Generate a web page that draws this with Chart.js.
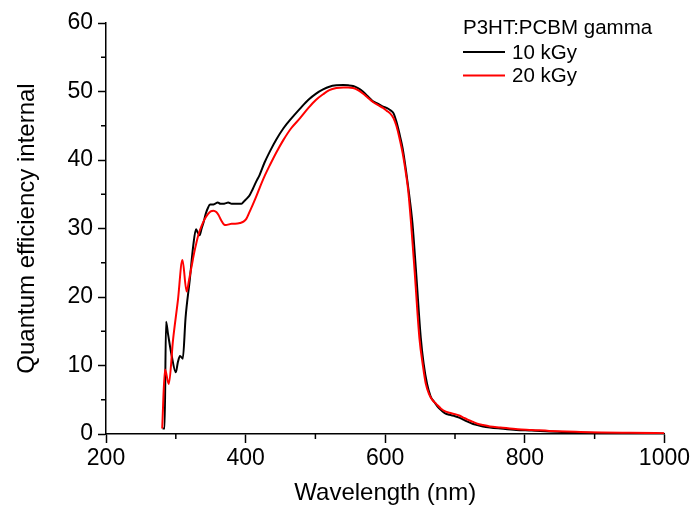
<!DOCTYPE html>
<html>
<head>
<meta charset="utf-8">
<script src="https://cdn.jsdelivr.net/npm/chart.js@4/dist/chart.umd.min.js"></script>
<style>
    html, body { margin: 0; padding: 0; background: #fff; }
    #wrap { width: 692px; height: 514px; }
</style>
</head>
<body>
<div id="wrap"><canvas id="qeChart" width="692" height="514"></canvas></div>
<script>
// 10 kGy
const wavelength10 = [281, 284, 286, 289, 294, 300, 303, 306, 310, 314, 320, 325, 329, 331, 334, 337, 340, 343, 346, 349,
    353, 356, 360, 364, 368, 372, 375, 380, 385, 390, 394, 398, 402, 406, 410, 415, 420, 427, 435, 444,
    454, 465, 478, 490, 501, 511, 520, 530, 540, 547, 554, 561, 568, 575, 582, 590, 597, 602, 607, 612,
    616, 620, 625, 630, 634, 639, 644, 651, 655, 660, 665, 670, 675, 680, 686, 692, 700, 706, 712,
    718, 725, 732, 740, 750, 765, 788, 810, 835, 860, 880, 910, 950, 1000];
const qe10 = [0.8, 0.8, 16.4, 14.5, 11.5, 9.0, 10.5, 11.4, 11.0, 17.0, 22.5, 27.5, 29.9, 29.5, 29.0, 30.0, 31.0, 32.2, 33.0, 33.5,
    33.5, 33.6, 33.8, 33.6, 33.6, 33.7, 33.8, 33.6, 33.6, 33.6, 33.6, 34.0, 34.4, 34.9, 35.7, 36.8, 37.8, 39.6, 41.3, 43.0,
    44.6, 46.0, 47.5, 48.8, 49.7, 50.3, 50.7, 50.9, 50.95, 50.9, 50.8, 50.5, 50.0, 49.3, 48.6, 48.2, 47.8, 47.6, 47.3, 46.8,
    45.6, 44.0, 41.7, 38.3, 35.2, 30.8, 24.0, 14.0, 10.3, 7.3, 5.5, 4.7, 4.0, 3.5, 3.0, 2.8, 2.6, 2.4, 2.1,
    1.8, 1.5, 1.3, 1.1, 0.95, 0.8, 0.6, 0.5, 0.35, 0.25, 0.2, 0.12, 0.08, 0.05];

// 20 kGy
const wavelength20 = [280.5, 284.5, 290, 296, 303, 309.5, 315.5, 319, 322.5, 326, 329.5, 333, 337, 341, 346, 350, 354, 358, 361, 365,
    369, 372, 376, 380, 385, 392, 397, 401, 406, 410, 415, 420, 427, 435, 444, 454, 465, 478, 490, 501,
    511, 520, 530, 540, 547, 554, 561, 568, 575, 582, 590, 597, 602, 607, 612, 616, 620, 625, 630, 633,
    637, 642, 649, 654, 658, 663, 668, 673, 680, 686, 692, 700, 706, 712, 718, 725, 732, 740, 750, 765,
    790, 810, 835, 860, 880, 910, 950, 1000];
const qe20 = [0.8, 9.4, 7.3, 13.7, 19.5, 25.4, 20.8, 22.5, 24.4, 26.3, 27.9, 29.3, 30.4, 31.3, 32.1, 32.5, 32.6, 32.4, 32.0, 31.2,
    30.6, 30.5, 30.6, 30.7, 30.7, 30.8, 31.0, 31.4, 32.5, 33.4, 34.6, 35.9, 37.6, 39.3, 41.1, 42.9, 44.6, 46.1, 47.6, 48.8,
    49.6, 50.2, 50.5, 50.6, 50.6, 50.5, 50.2, 49.7, 49.1, 48.5, 48.0, 47.6, 47.2, 46.8, 46.1, 45.0, 43.4, 41.0, 37.8, 35.5,
    30.8, 24.0, 14.0, 10.0, 7.4, 5.8, 4.9, 4.4, 3.7, 3.3, 3.1, 2.9, 2.7, 2.4, 2.1, 1.8, 1.5, 1.3, 1.1, 0.95,
    0.7, 0.6, 0.45, 0.35, 0.3, 0.22, 0.17, 0.12];

const xMinorTicks = [300, 500, 700, 900];
const yMinorTicks = [5, 15, 25, 35, 45, 55];
const legendTitle = 'P3HT:PCBM gamma';
const seriesLabels = ['10 kGy', '20 kGy'];
const seriesColors = ['#000000', '#ff0000'];

const fontFamily = "'Liberation Sans', Arial, sans-serif";

function toPoints(xs, ys) {
    return xs.map((x, i) => ({ x: x, y: ys[i] }));
}

// short outward ticks between the labelled ones
const minorTicks = {
    id: 'minorTicks',
    afterDraw(chart) {
        const ctx = chart.ctx;
        const xs = chart.scales.x;
        const ys = chart.scales.y;
        const area = chart.chartArea;
        ctx.save();
        ctx.strokeStyle = '#000';
        ctx.lineWidth = 1.5;
        ctx.beginPath();
        xMinorTicks.forEach(v => {
            const px = xs.getPixelForValue(v);
            ctx.moveTo(px, area.bottom);
            ctx.lineTo(px, area.bottom + 5);
        });
        yMinorTicks.forEach(v => {
            const py = ys.getPixelForValue(v);
            ctx.moveTo(area.left - 5, py);
            ctx.lineTo(area.left, py);
        });
        ctx.stroke();
        ctx.restore();
    }
};

// legend box in the top right corner, as in the original plot
const insideLegend = {
    id: 'insideLegend',
    afterDraw(chart) {
        const ctx = chart.ctx;
        const x0 = 463;
        ctx.save();
        ctx.font = '20.5px ' + fontFamily;
        ctx.fillStyle = '#000';
        ctx.textBaseline = 'middle';
        ctx.fillText(legendTitle, x0, 28);
        chart.data.datasets.forEach((ds, i) => {
            const y = 52 + i * 23.5;
            ctx.strokeStyle = ds.borderColor;
            ctx.lineWidth = 2;
            ctx.beginPath();
            ctx.moveTo(x0, y);
            ctx.lineTo(x0 + 42, y);
            ctx.stroke();
            ctx.fillStyle = '#000';
            ctx.fillText(ds.label, x0 + 49, y + 1);
        });
        ctx.restore();
    }
};

const ctx = document.getElementById('qeChart').getContext('2d');
new Chart(ctx, {
    type: 'line',
    data: {
        datasets: [{
            label: seriesLabels[0],
            data: toPoints(wavelength10, qe10),
            borderColor: seriesColors[0],
            backgroundColor: seriesColors[0],
            borderWidth: 2,
            pointRadius: 0,
            cubicInterpolationMode: 'monotone',
            order: 1
        }, {
            label: seriesLabels[1],
            data: toPoints(wavelength20, qe20),
            borderColor: seriesColors[1],
            backgroundColor: seriesColors[1],
            borderWidth: 2,
            pointRadius: 0,
            cubicInterpolationMode: 'monotone',
            order: 0
        }]
    },
    options: {
        responsive: false,
        animation: false,
        devicePixelRatio: 1,
        layout: {
            padding: { top: 23, right: 27, bottom: 0, left: 0 }
        },
        plugins: {
            legend: { display: false },
            tooltip: { enabled: false }
        },
        scales: {
            x: {
                type: 'linear',
                min: 200,
                max: 1000,
                afterFit: function (scale) { scale.height = 80; },
                border: { color: '#000', width: 1.5 },
                grid: {
                    drawOnChartArea: false,
                    drawTicks: true,
                    tickLength: 9,
                    tickColor: '#000',
                    tickWidth: 1.5
                },
                ticks: {
                    stepSize: 200,
                    color: '#000',
                    padding: 2,
                    maxRotation: 0,
                    font: { family: fontFamily, size: 23 },
                    callback: function (value) { return String(value); }
                },
                title: {
                    display: true,
                    text: 'Wavelength (nm)',
                    color: '#000',
                    padding: { top: 0, bottom: 6 },
                    font: { family: fontFamily, size: 24 }
                }
            },
            y: {
                min: 0,
                max: 60,
                afterFit: function (scale) { scale.width = 106; },
                border: { color: '#000', width: 1.5 },
                grid: {
                    drawOnChartArea: false,
                    drawTicks: true,
                    tickLength: 8,
                    tickColor: '#000',
                    tickWidth: 1.5
                },
                ticks: {
                    stepSize: 10,
                    color: '#000',
                    padding: 5,
                    font: { family: fontFamily, size: 23 }
                },
                title: {
                    display: true,
                    text: 'Quantum efficiency internal',
                    color: '#000',
                    padding: { top: 13, bottom: 0 },
                    font: { family: fontFamily, size: 24 }
                }
            }
        }
    },
    plugins: [minorTicks, insideLegend]
});
</script>
</body>
</html>
